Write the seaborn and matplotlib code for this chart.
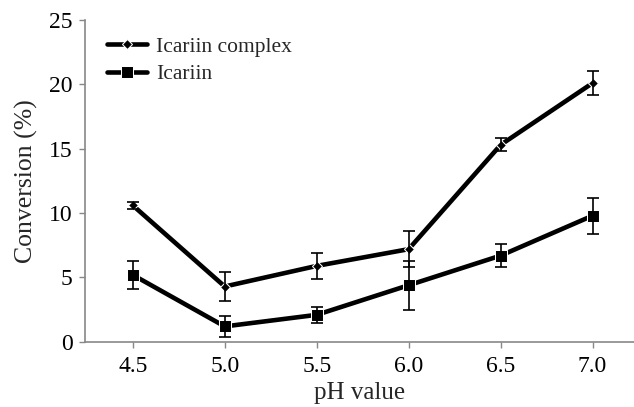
import matplotlib
matplotlib.use("Agg")
import matplotlib.pyplot as plt
import seaborn as sns
import pandas as pd
import numpy as np

ph_labels = ["4.5", "5.0", "5.5", "6.0", "6.5", "7.0"]
complex_vals = [10.6, 4.3, 5.9, 7.2, 15.3, 20.1]
complex_err = [0.3, 1.15, 1.0, 1.4, 0.5, 0.9]
icariin_vals = [5.2, 1.2, 2.1, 4.4, 6.7, 9.8]
icariin_err = [1.1, 0.8, 0.6, 1.9, 0.9, 1.4]

sns.set_theme(style="ticks")
plt.rcParams['font.family'] = ['Liberation Serif', 'DejaVu Serif']

pos = np.arange(len(ph_labels))
df = pd.DataFrame({
    "pos": np.concatenate([pos, pos]),
    "value": complex_vals + icariin_vals,
    "series": ["Icariin complex"] * 6 + ["Icariin"] * 6,
})

fig = plt.figure(figsize=(6.34, 4.07), dpi=100)
ax = fig.add_axes([0.134, 0.160, 0.866, 0.791])

sns.lineplot(data=df, x="pos", y="value", hue="series", style="series",
             markers={"Icariin complex": "D", "Icariin": "s"}, dashes=False,
             palette={"Icariin complex": "black", "Icariin": "black"},
             linewidth=3.3, markersize=6, ax=ax, legend=True)
for ln, ms in zip(ax.lines[:2], [5.5, 9]):
    ln.set_markersize(ms)

ax.errorbar(pos, complex_vals, yerr=complex_err, fmt="none", ecolor="black",
            elinewidth=1.2, capsize=4, capthick=1.2)
ax.errorbar(pos, icariin_vals, yerr=icariin_err, fmt="none", ecolor="black",
            elinewidth=1.2, capsize=4, capthick=1.2)

ax.set_xlim(-0.52, 5.45)
ax.set_ylim(0, 25)
ax.set_yticks([0, 5, 10, 15, 20, 25])
ax.set_xticks(pos)
ax.set_xticklabels(ph_labels)
ax.tick_params(axis="both", labelsize=17, colors="#888888", labelcolor="black",
               length=4, width=1, direction="out")
ax.tick_params(axis="y", pad=5)
ax.tick_params(axis="x", pad=6)
for s in ["top", "right"]:
    ax.spines[s].set_visible(False)
for s in ["left", "bottom"]:
    ax.spines[s].set_color("#888888")
    ax.spines[s].set_linewidth(1.2)

ax.set_xlabel("pH value", fontsize=18, labelpad=4)
ax.set_ylabel("Conversion (%)", fontsize=18.5, labelpad=8)

h, l = ax.get_legend_handles_labels()
for hh, ms in zip(h, [5.5, 9]):
    hh.set_markersize(ms)
    hh.set_linewidth(3.3)
ax.legend(h, l, loc="upper left", bbox_to_anchor=(0.025, 0.975), frameon=False,
          fontsize=15.5, handlelength=1.85, handletextpad=0.4, labelspacing=0.35,
          borderaxespad=0)

fig.savefig("out.png", dpi=100, facecolor="white")
